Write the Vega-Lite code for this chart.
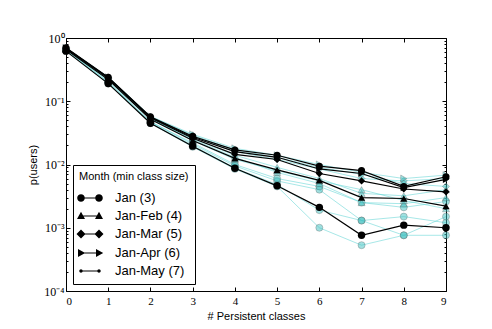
{
  "$schema": "https://vega.github.io/schema/vega-lite/v6.json",
  "autosize": "none",
  "width": 380,
  "height": 253,
  "padding": {"left": 66, "top": 38, "right": 46, "bottom": 38},
  "background": "white",
  "config": {
    "view": {"stroke": null},
    "axis": {"grid": false, "domainColor": "black", "tickColor": "black", "domainWidth": 1, "tickWidth": 1,
      "labelFont": "Liberation Serif", "labelFontSize": 11, "labelColor": "black",
      "titleFont": "Liberation Sans", "titleFontSize": 11, "titleFontWeight": "normal", "titleColor": "black"}
  },
  "datasets": {
    "series": [
      {"m": "Feb", "s": 1, "g": "c", "x": 0, "p": 0.65}, {"m": "Feb", "s": 1, "g": "c", "x": 1, "p": 0.2}, {"m": "Feb", "s": 1, "g": "c", "x": 2, "p": 0.046}, {"m": "Feb", "s": 1, "g": "c", "x": 3, "p": 0.02}, {"m": "Feb", "s": 1, "g": "c", "x": 4, "p": 0.0088}, {"m": "Feb", "s": 1, "g": "c", "x": 5, "p": 0.0048}, {"m": "Feb", "s": 1, "g": "c", "x": 6, "p": 0.0019}, {"m": "Feb", "s": 1, "g": "c", "x": 7, "p": 0.0013}, {"m": "Feb", "s": 1, "g": "c", "x": 8, "p": 0.0015}, {"m": "Feb", "s": 1, "g": "c", "x": 9, "p": 0.0012},
      {"m": "Mar", "s": 1, "g": "c", "x": 0, "p": 0.63}, {"m": "Mar", "s": 1, "g": "c", "x": 1, "p": 0.19}, {"m": "Mar", "s": 1, "g": "c", "x": 2, "p": 0.045}, {"m": "Mar", "s": 1, "g": "c", "x": 3, "p": 0.019}, {"m": "Mar", "s": 1, "g": "c", "x": 4, "p": 0.0085}, {"m": "Mar", "s": 1, "g": "c", "x": 5, "p": 0.0045}, {"m": "Mar", "s": 1, "g": "c", "x": 6, "p": 0.001}, {"m": "Mar", "s": 1, "g": "c", "x": 7, "p": 0.00053}, {"m": "Mar", "s": 1, "g": "c", "x": 8, "p": 0.00076}, {"m": "Mar", "s": 1, "g": "c", "x": 9, "p": 0.00076},
      {"m": "Apr", "s": 1, "g": "c", "x": 0, "p": 0.66}, {"m": "Apr", "s": 1, "g": "c", "x": 1, "p": 0.21}, {"m": "Apr", "s": 1, "g": "c", "x": 2, "p": 0.048}, {"m": "Apr", "s": 1, "g": "c", "x": 3, "p": 0.021}, {"m": "Apr", "s": 1, "g": "c", "x": 4, "p": 0.0095}, {"m": "Apr", "s": 1, "g": "c", "x": 5, "p": 0.0055}, {"m": "Apr", "s": 1, "g": "c", "x": 6, "p": 0.004}, {"m": "Apr", "s": 1, "g": "c", "x": 7, "p": 0.0013}, {"m": "Apr", "s": 1, "g": "c", "x": 8, "p": 0.00076}, {"m": "Apr", "s": 1, "g": "c", "x": 9, "p": 0.0015},
      {"m": "May", "s": 1, "g": "c", "x": 0, "p": 0.64}, {"m": "May", "s": 1, "g": "c", "x": 1, "p": 0.2}, {"m": "May", "s": 1, "g": "c", "x": 2, "p": 0.047}, {"m": "May", "s": 1, "g": "c", "x": 3, "p": 0.022}, {"m": "May", "s": 1, "g": "c", "x": 4, "p": 0.01}, {"m": "May", "s": 1, "g": "c", "x": 5, "p": 0.006}, {"m": "May", "s": 1, "g": "c", "x": 6, "p": 0.0045}, {"m": "May", "s": 1, "g": "c", "x": 7, "p": 0.0025}, {"m": "May", "s": 1, "g": "c", "x": 8, "p": 0.0021}, {"m": "May", "s": 1, "g": "c", "x": 9, "p": 0.0026},
      {"m": "Feb-Mar", "s": 2, "g": "c", "x": 0, "p": 0.68}, {"m": "Feb-Mar", "s": 2, "g": "c", "x": 1, "p": 0.23}, {"m": "Feb-Mar", "s": 2, "g": "c", "x": 2, "p": 0.053}, {"m": "Feb-Mar", "s": 2, "g": "c", "x": 3, "p": 0.025}, {"m": "Feb-Mar", "s": 2, "g": "c", "x": 4, "p": 0.013}, {"m": "Feb-Mar", "s": 2, "g": "c", "x": 5, "p": 0.0075}, {"m": "Feb-Mar", "s": 2, "g": "c", "x": 6, "p": 0.005}, {"m": "Feb-Mar", "s": 2, "g": "c", "x": 7, "p": 0.0025}, {"m": "Feb-Mar", "s": 2, "g": "c", "x": 8, "p": 0.0024}, {"m": "Feb-Mar", "s": 2, "g": "c", "x": 9, "p": 0.003},
      {"m": "Mar-Apr", "s": 2, "g": "c", "x": 0, "p": 0.67}, {"m": "Mar-Apr", "s": 2, "g": "c", "x": 1, "p": 0.22}, {"m": "Mar-Apr", "s": 2, "g": "c", "x": 2, "p": 0.052}, {"m": "Mar-Apr", "s": 2, "g": "c", "x": 3, "p": 0.026}, {"m": "Mar-Apr", "s": 2, "g": "c", "x": 4, "p": 0.014}, {"m": "Mar-Apr", "s": 2, "g": "c", "x": 5, "p": 0.009}, {"m": "Mar-Apr", "s": 2, "g": "c", "x": 6, "p": 0.006}, {"m": "Mar-Apr", "s": 2, "g": "c", "x": 7, "p": 0.0035}, {"m": "Mar-Apr", "s": 2, "g": "c", "x": 8, "p": 0.0032}, {"m": "Mar-Apr", "s": 2, "g": "c", "x": 9, "p": 0.004},
      {"m": "Apr-May", "s": 2, "g": "c", "x": 0, "p": 0.69}, {"m": "Apr-May", "s": 2, "g": "c", "x": 1, "p": 0.22}, {"m": "Apr-May", "s": 2, "g": "c", "x": 2, "p": 0.054}, {"m": "Apr-May", "s": 2, "g": "c", "x": 3, "p": 0.024}, {"m": "Apr-May", "s": 2, "g": "c", "x": 4, "p": 0.012}, {"m": "Apr-May", "s": 2, "g": "c", "x": 5, "p": 0.008}, {"m": "Apr-May", "s": 2, "g": "c", "x": 6, "p": 0.0055}, {"m": "Apr-May", "s": 2, "g": "c", "x": 7, "p": 0.004}, {"m": "Apr-May", "s": 2, "g": "c", "x": 8, "p": 0.0027}, {"m": "Apr-May", "s": 2, "g": "c", "x": 9, "p": 0.002},
      {"m": "Feb-Apr", "s": 3, "g": "c", "x": 0, "p": 0.7}, {"m": "Feb-Apr", "s": 3, "g": "c", "x": 1, "p": 0.23}, {"m": "Feb-Apr", "s": 3, "g": "c", "x": 2, "p": 0.056}, {"m": "Feb-Apr", "s": 3, "g": "c", "x": 3, "p": 0.028}, {"m": "Feb-Apr", "s": 3, "g": "c", "x": 4, "p": 0.016}, {"m": "Feb-Apr", "s": 3, "g": "c", "x": 5, "p": 0.012}, {"m": "Feb-Apr", "s": 3, "g": "c", "x": 6, "p": 0.0085}, {"m": "Feb-Apr", "s": 3, "g": "c", "x": 7, "p": 0.006}, {"m": "Feb-Apr", "s": 3, "g": "c", "x": 8, "p": 0.0055}, {"m": "Feb-Apr", "s": 3, "g": "c", "x": 9, "p": 0.006},
      {"m": "Mar-May", "s": 3, "g": "c", "x": 0, "p": 0.69}, {"m": "Mar-May", "s": 3, "g": "c", "x": 1, "p": 0.24}, {"m": "Mar-May", "s": 3, "g": "c", "x": 2, "p": 0.057}, {"m": "Mar-May", "s": 3, "g": "c", "x": 3, "p": 0.029}, {"m": "Mar-May", "s": 3, "g": "c", "x": 4, "p": 0.017}, {"m": "Mar-May", "s": 3, "g": "c", "x": 5, "p": 0.013}, {"m": "Mar-May", "s": 3, "g": "c", "x": 6, "p": 0.009}, {"m": "Mar-May", "s": 3, "g": "c", "x": 7, "p": 0.007}, {"m": "Mar-May", "s": 3, "g": "c", "x": 8, "p": 0.005}, {"m": "Mar-May", "s": 3, "g": "c", "x": 9, "p": 0.0045},
      {"m": "Feb-May", "s": 4, "g": "c", "x": 0, "p": 0.7}, {"m": "Feb-May", "s": 4, "g": "c", "x": 1, "p": 0.24}, {"m": "Feb-May", "s": 4, "g": "c", "x": 2, "p": 0.058}, {"m": "Feb-May", "s": 4, "g": "c", "x": 3, "p": 0.03}, {"m": "Feb-May", "s": 4, "g": "c", "x": 4, "p": 0.018}, {"m": "Feb-May", "s": 4, "g": "c", "x": 5, "p": 0.014}, {"m": "Feb-May", "s": 4, "g": "c", "x": 6, "p": 0.01}, {"m": "Feb-May", "s": 4, "g": "c", "x": 7, "p": 0.0075}, {"m": "Feb-May", "s": 4, "g": "c", "x": 8, "p": 0.006}, {"m": "Feb-May", "s": 4, "g": "c", "x": 9, "p": 0.0068},
      {"m": "Jan (3)", "s": 1, "g": "b", "x": 0, "p": 0.62}, {"m": "Jan (3)", "s": 1, "g": "b", "x": 1, "p": 0.19}, {"m": "Jan (3)", "s": 1, "g": "b", "x": 2, "p": 0.045}, {"m": "Jan (3)", "s": 1, "g": "b", "x": 3, "p": 0.0195}, {"m": "Jan (3)", "s": 1, "g": "b", "x": 4, "p": 0.0087}, {"m": "Jan (3)", "s": 1, "g": "b", "x": 5, "p": 0.0046}, {"m": "Jan (3)", "s": 1, "g": "b", "x": 6, "p": 0.0021}, {"m": "Jan (3)", "s": 1, "g": "b", "x": 7, "p": 0.00076}, {"m": "Jan (3)", "s": 1, "g": "b", "x": 8, "p": 0.0011}, {"m": "Jan (3)", "s": 1, "g": "b", "x": 9, "p": 0.001},
      {"m": "Jan-Feb (4)", "s": 2, "g": "b", "x": 0, "p": 0.66}, {"m": "Jan-Feb (4)", "s": 2, "g": "b", "x": 1, "p": 0.22}, {"m": "Jan-Feb (4)", "s": 2, "g": "b", "x": 2, "p": 0.052}, {"m": "Jan-Feb (4)", "s": 2, "g": "b", "x": 3, "p": 0.024}, {"m": "Jan-Feb (4)", "s": 2, "g": "b", "x": 4, "p": 0.0125}, {"m": "Jan-Feb (4)", "s": 2, "g": "b", "x": 5, "p": 0.0082}, {"m": "Jan-Feb (4)", "s": 2, "g": "b", "x": 6, "p": 0.0056}, {"m": "Jan-Feb (4)", "s": 2, "g": "b", "x": 7, "p": 0.003}, {"m": "Jan-Feb (4)", "s": 2, "g": "b", "x": 8, "p": 0.0029}, {"m": "Jan-Feb (4)", "s": 2, "g": "b", "x": 9, "p": 0.0022},
      {"m": "Jan-Mar (5)", "s": 3, "g": "b", "x": 0, "p": 0.68}, {"m": "Jan-Mar (5)", "s": 3, "g": "b", "x": 1, "p": 0.23}, {"m": "Jan-Mar (5)", "s": 3, "g": "b", "x": 2, "p": 0.055}, {"m": "Jan-Mar (5)", "s": 3, "g": "b", "x": 3, "p": 0.026}, {"m": "Jan-Mar (5)", "s": 3, "g": "b", "x": 4, "p": 0.0145}, {"m": "Jan-Mar (5)", "s": 3, "g": "b", "x": 5, "p": 0.012}, {"m": "Jan-Mar (5)", "s": 3, "g": "b", "x": 6, "p": 0.0072}, {"m": "Jan-Mar (5)", "s": 3, "g": "b", "x": 7, "p": 0.0055}, {"m": "Jan-Mar (5)", "s": 3, "g": "b", "x": 8, "p": 0.0041}, {"m": "Jan-Mar (5)", "s": 3, "g": "b", "x": 9, "p": 0.0037},
      {"m": "Jan-Apr (6)", "s": 4, "g": "b", "x": 0, "p": 0.69}, {"m": "Jan-Apr (6)", "s": 4, "g": "b", "x": 1, "p": 0.235}, {"m": "Jan-Apr (6)", "s": 4, "g": "b", "x": 2, "p": 0.056}, {"m": "Jan-Apr (6)", "s": 4, "g": "b", "x": 3, "p": 0.027}, {"m": "Jan-Apr (6)", "s": 4, "g": "b", "x": 4, "p": 0.016}, {"m": "Jan-Apr (6)", "s": 4, "g": "b", "x": 5, "p": 0.013}, {"m": "Jan-Apr (6)", "s": 4, "g": "b", "x": 6, "p": 0.0085}, {"m": "Jan-Apr (6)", "s": 4, "g": "b", "x": 7, "p": 0.0072}, {"m": "Jan-Apr (6)", "s": 4, "g": "b", "x": 8, "p": 0.0043}, {"m": "Jan-Apr (6)", "s": 4, "g": "b", "x": 9, "p": 0.0058},
      {"m": "Jan-May (7)", "s": 5, "g": "b", "x": 0, "p": 0.7}, {"m": "Jan-May (7)", "s": 5, "g": "b", "x": 1, "p": 0.24}, {"m": "Jan-May (7)", "s": 5, "g": "b", "x": 2, "p": 0.057}, {"m": "Jan-May (7)", "s": 5, "g": "b", "x": 3, "p": 0.028}, {"m": "Jan-May (7)", "s": 5, "g": "b", "x": 4, "p": 0.017}, {"m": "Jan-May (7)", "s": 5, "g": "b", "x": 5, "p": 0.014}, {"m": "Jan-May (7)", "s": 5, "g": "b", "x": 6, "p": 0.0094}, {"m": "Jan-May (7)", "s": 5, "g": "b", "x": 7, "p": 0.008}, {"m": "Jan-May (7)", "s": 5, "g": "b", "x": 8, "p": 0.0045}, {"m": "Jan-May (7)", "s": 5, "g": "b", "x": 9, "p": 0.0064}
    ]
  },
  "data": {"name": "series"},
  "resolve": {"axis": {"x": "independent", "y": "independent"}, "scale": {"shape": "independent"}},
  "layer": [
    {
      "transform": [{"filter": "datum.g === 'c'"}],
      "mark": {"type": "line", "color": "#5fd3d3", "opacity": 0.55, "strokeWidth": 1},
      "encoding": {
        "x": {"field": "x", "type": "quantitative", "scale": {"domain": [0, 9], "nice": false, "zero": false},
          "axis": {"orient": "bottom", "values": [0,1,2,3,4,5,6,7,8,9], "format": "d", "tickSize": -4, "labelPadding": 8, "title": "# Persistent classes", "titlePadding": 4}},
        "y": {"field": "p", "type": "quantitative", "scale": {"type": "log", "domain": [0.0001, 1], "nice": false},
          "axis": {"orient": "left", "title": "p(users)", "titlePadding": 5, "labelOverlap": false, "labelPadding": 6, "labelFontSize": 12,
            "values": [0.0001,0.0002,0.0003,0.0004,0.0005,0.0006,0.0007,0.0008,0.0009,0.001,0.002,0.003,0.004,0.005,0.006,0.007,0.008,0.009,0.01,0.02,0.03,0.04,0.05,0.06,0.07,0.08,0.09,0.1,0.2,0.3,0.4,0.5,0.6,0.7,0.8,0.9,1],
            "labelExpr": "datum.value == 1 ? '10⁰' : datum.value == 0.1 ? '10⁻¹' : datum.value == 0.01 ? '10⁻²' : datum.value == 0.001 ? '10⁻³' : datum.value == 0.0001 ? '10⁻⁴' : ''",
            "tickSize": {"condition": {"test": "datum.value == 1 || datum.value == 0.1 || datum.value == 0.01 || datum.value == 0.001 || datum.value == 0.0001", "value": -4}, "value": -2}}},
        "detail": {"field": "m"}
      }
    },
    {
      "transform": [{"filter": "datum.g === 'c'"}],
      "mark": {"type": "point", "filled": true, "size": 50, "fill": "#40c0c0", "fillOpacity": 0.5, "stroke": "#555", "strokeOpacity": 0.3, "strokeWidth": 1},
      "encoding": {
        "x": {"field": "x", "type": "quantitative",
          "axis": {"orient": "top", "values": [0,1,2,3,4,5,6,7,8,9], "labels": false, "title": null, "tickSize": -4}},
        "y": {"field": "p", "type": "quantitative",
          "axis": {"orient": "right", "labels": false, "title": null,
            "values": [0.0001,0.0002,0.0003,0.0004,0.0005,0.0006,0.0007,0.0008,0.0009,0.001,0.002,0.003,0.004,0.005,0.006,0.007,0.008,0.009,0.01,0.02,0.03,0.04,0.05,0.06,0.07,0.08,0.09,0.1,0.2,0.3,0.4,0.5,0.6,0.7,0.8,0.9,1],
            "tickSize": {"condition": {"test": "datum.value == 1 || datum.value == 0.1 || datum.value == 0.01 || datum.value == 0.001 || datum.value == 0.0001", "value": -4}, "value": -2}}},
        "shape": {"field": "s", "type": "nominal", "scale": {"domain": [1,2,3,4,5], "range": ["circle","triangle-up","diamond","triangle-right","circle"]}, "legend": null}
      }
    },
    {
      "transform": [{"filter": "datum.g === 'b'"}],
      "mark": {"type": "line", "color": "black", "strokeWidth": 1.2},
      "encoding": {
        "x": {"field": "x", "type": "quantitative", "axis": null},
        "y": {"field": "p", "type": "quantitative", "axis": null},
        "detail": {"field": "m"}
      }
    },
    {
      "transform": [{"filter": "datum.g === 'b'"}],
      "mark": {"type": "point", "filled": true, "color": "black", "opacity": 1},
      "encoding": {
        "x": {"field": "x", "type": "quantitative", "axis": null},
        "y": {"field": "p", "type": "quantitative", "axis": null},
        "shape": {"field": "s", "type": "nominal", "scale": {"domain": [1,2,3,4,5], "range": ["circle","triangle-up","diamond","triangle-right","circle"]}, "legend": null},
        "size": {"field": "s", "type": "nominal", "scale": {"domain": [1,2,3,4,5], "range": [55,50,60,50,14]}, "legend": null}
      }
    },
    {
      "transform": [{"filter": "datum.g === 'b' && datum.x == 0"}],
      "mark": {"type": "point", "filled": true, "color": "black", "opacity": 0},
      "encoding": {
        "x": {"field": "x", "type": "quantitative", "axis": null},
        "y": {"field": "p", "type": "quantitative", "axis": null},
        "shape": {"field": "m", "type": "nominal",
          "scale": {"domain": ["Jan (3)","Jan-Feb (4)","Jan-Mar (5)","Jan-Apr (6)","Jan-May (7)"],
            "range": [
              "M-0.9,-0.06L0.9,-0.06L0.9,0.06L-0.9,0.06ZM-0.52,0A0.38,0.38 0 1,1 -1.28,0A0.38,0.38 0 1,1 -0.52,0ZM1.28,0A0.38,0.38 0 1,1 0.52,0A0.38,0.38 0 1,1 1.28,0Z",
              "M-0.9,-0.06L0.9,-0.06L0.9,0.06L-0.9,0.06ZM-0.9,-0.42L-0.5,0.3L-1.3,0.3ZM0.9,-0.42L1.3,0.3L0.5,0.3Z",
              "M-0.9,-0.06L0.9,-0.06L0.9,0.06L-0.9,0.06ZM-0.9,-0.45L-0.45,0L-0.9,0.45L-1.35,0ZM0.9,-0.45L1.35,0L0.9,0.45L0.45,0Z",
              "M-0.9,-0.06L0.9,-0.06L0.9,0.06L-0.9,0.06ZM-0.48,0L-1.2,0.4L-1.2,-0.4ZM1.32,0L0.6,0.4L0.6,-0.4Z",
              "M-0.9,-0.06L0.9,-0.06L0.9,0.06L-0.9,0.06ZM-0.73,0A0.17,0.17 0 1,1 -1.07,0A0.17,0.17 0 1,1 -0.73,0ZM1.07,0A0.17,0.17 0 1,1 0.73,0A0.17,0.17 0 1,1 1.07,0Z"
            ]},
          "legend": {"title": "Month (min class size)", "orient": "bottom-left", "offset": 7,
            "titleFont": "Liberation Sans", "titleFontSize": 11, "titleFontWeight": "normal", "titleColor": "black",
            "labelFont": "Liberation Sans", "labelFontSize": 13, "labelColor": "black",
            "symbolSize": 400, "symbolFillColor": "black", "symbolStrokeColor": "black", "symbolOpacity": 1,
            "strokeColor": "black", "fillColor": "white", "padding": 6, "rowPadding": 0, "labelOffset": 14,
            "encode": {"symbols": {"update": {"opacity": {"value": 1}, "fill": {"value": "black"}, "fillOpacity": {"value": 1}}}}}
        }
      }
    }
  ]
}
